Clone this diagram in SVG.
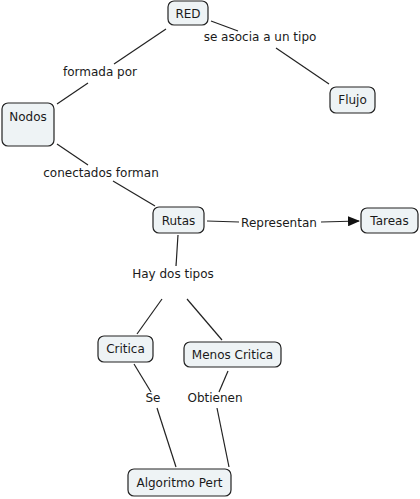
<svg xmlns="http://www.w3.org/2000/svg" width="420" height="499" viewBox="0 0 420 499">
<style>
.n{fill:#eef3f5;stroke:#222;stroke-width:1.2}
.t{font-family:"DejaVu Sans",Verdana,sans-serif;font-size:12px;fill:#1a1a1a;text-anchor:middle}
.c line{stroke:#222;stroke-width:1.2}
</style>
<defs>
<marker id="a" markerWidth="12" markerHeight="10" refX="11" refY="5" orient="auto" markerUnits="userSpaceOnUse">
<path d="M0,0 L12,5 L0,10 z" fill="#111"/>
</marker>
</defs>
<rect width="420" height="499" fill="#fff"/>
<g class="c" id="connectors">
<line x1="166" y1="29" x2="114" y2="64"/>
<line x1="88" y1="83" x2="57" y2="104"/>
<line x1="211" y1="21" x2="238" y2="31"/>
<line x1="276" y1="48" x2="329" y2="84"/>
<line x1="57" y1="144" x2="88" y2="165"/>
<line x1="113" y1="181" x2="155" y2="206"/>
<line x1="207" y1="221" x2="239" y2="222"/>
<line x1="321" y1="222" x2="359" y2="221" marker-end="url(#a)"/>
<line x1="178" y1="235" x2="176" y2="266"/>
<line x1="162" y1="299" x2="137" y2="334"/>
<line x1="187" y1="299" x2="222" y2="340"/>
<line x1="134" y1="364" x2="151" y2="392"/>
<line x1="157" y1="408" x2="176" y2="467"/>
<line x1="228" y1="371" x2="219" y2="392"/>
<line x1="217" y1="408" x2="229" y2="467"/>
</g>
<g id="labels">
<text class="t" x="100" y="76">formada por</text>
<text class="t" x="260" y="41">se asocia a un tipo</text>
<text class="t" x="101" y="177">conectados forman</text>
<text class="t" x="279" y="227">Representan</text>
<text class="t" x="173" y="278">Hay dos tipos</text>
<text class="t" x="153" y="402">Se</text>
<text class="t" x="215" y="402">Obtienen</text>
</g>
<g id="RED"><rect class="n" x="168" y="1" width="40" height="24" rx="6"/><text class="t" x="188" y="18">RED</text></g>
<g id="Flujo"><rect class="n" x="330" y="87" width="45" height="26" rx="6"/><text class="t" x="352.5" y="104">Flujo</text></g>
<g id="Nodos"><rect class="n" x="2" y="103" width="52" height="43" rx="6"/><text class="t" x="28" y="121">Nodos</text></g>
<g id="Rutas"><rect class="n" x="153" y="207" width="51" height="26" rx="6"/><text class="t" x="178.5" y="225">Rutas</text></g>
<g id="Tareas"><rect class="n" x="361" y="208" width="57" height="25" rx="6"/><text class="t" x="389.5" y="225">Tareas</text></g>
<g id="Critica"><rect class="n" x="98" y="336" width="55" height="26" rx="6"/><text class="t" x="125.5" y="353">Critica</text></g>
<g id="MenosCritica"><rect class="n" x="184" y="342" width="97" height="25" rx="6"/><text class="t" x="232.5" y="359">Menos Critica</text></g>
<g id="AlgoritmoPert"><rect class="n" x="128" y="469" width="103" height="27" rx="6"/><text class="t" x="179.5" y="487">Algoritmo Pert</text></g>
</svg>
